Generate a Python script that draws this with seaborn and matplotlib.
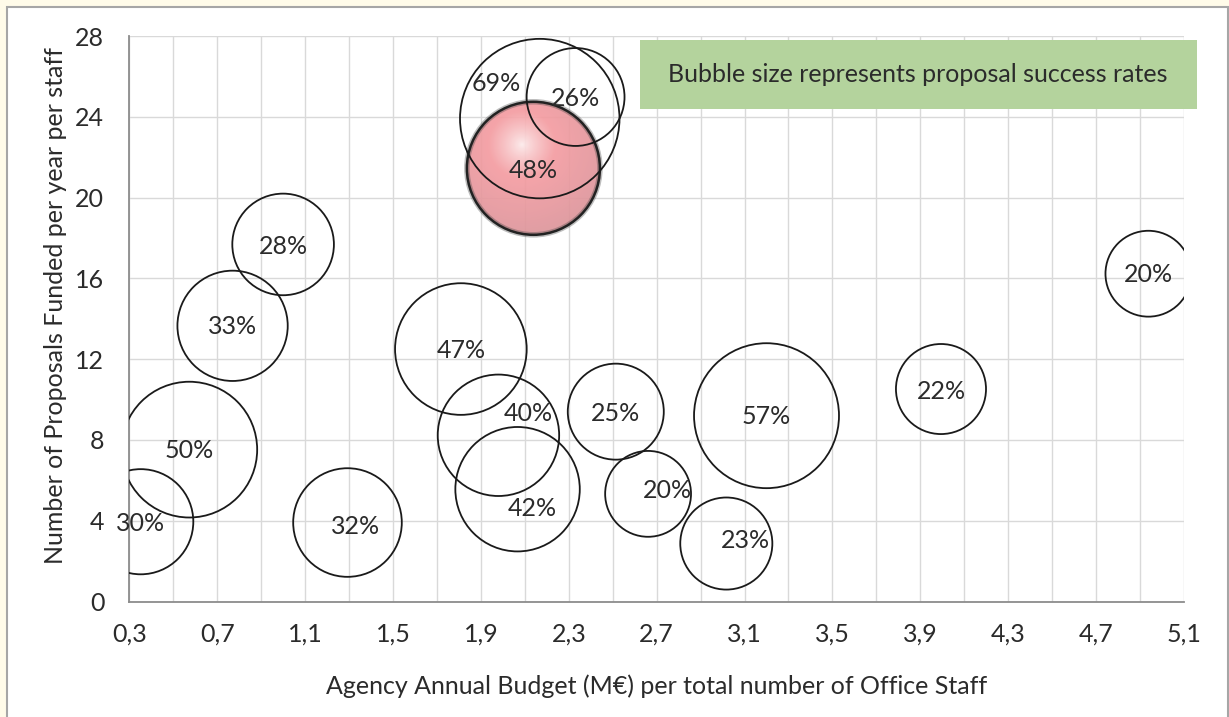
import matplotlib.pyplot as plt
import matplotlib.patches as mpatches
import numpy as np
import pandas as pd
import seaborn as sns

## values
budget_per_staff = [0.352, 0.573, 0.770, 1.000, 1.293, 1.809, 1.980, 2.067, 2.514,
                    2.661, 3.200, 3.017, 3.994, 4.938, 2.168, 2.331, 2.139]
funded_per_staff = [3.95, 7.52, 13.65, 17.68, 3.91, 12.50, 8.23, 5.56, 9.40,
                    5.33, 9.20, 2.87, 10.52, 16.23, 23.91, 24.98, 21.45]
success_rate = [30, 50, 33, 28, 32, 47, 40, 42, 25, 20, 57, 23, 22, 20, 69, 26, 48]
highlight_idx = 16  # the shaded bubble

# label nudges in pixels (right, down) where labels were moved off centre
label_dx = [0, 0, 0, 0, 8, 0, 30, 15, 0, 19, 0, 19, 0, 0, -44, 0, 0]
label_dy = [2, 1, 1, 2, 4, 1, -22, 19, 2, -3, 1, -3, 2, 1, -35, 2, 2]

x_ticks = np.arange(0.3, 5.11, 0.4)
y_ticks = np.arange(0, 28.1, 4)

df = pd.DataFrame({"budget": budget_per_staff, "funded": funded_per_staff,
                   "rate": success_rate})

sns.set_style("white")
plt.rcParams["font.family"] = ["Lato", "DejaVu Sans"]
text_col = "#2b2b2b"
FS = 18

fig = plt.figure(figsize=(12.29, 7.17), dpi=100, facecolor="#FFFBE9")
# white chart area with grey frame
frame = mpatches.Rectangle((7 / 1229, -0.02), 1221 / 1229, 710 / 717 + 0.02,
                           transform=fig.transFigure, facecolor="white",
                           edgecolor="#A6A6A6", linewidth=1.5, zorder=-10)
fig.add_artist(frame)

ax = fig.add_axes([129.3 / 1229, 115.5 / 717, 1054.7 / 1229, 565.5 / 717])
ax.set_xlim(0.3, 5.1)
ax.set_ylim(0, 28)

# bubble area proportional to success rate (px radius = 9.6*sqrt(rate))
k = (2 * 9.6 * 0.72) ** 2
plain = df.drop(index=highlight_idx)
sns.scatterplot(data=plain, x="budget", y="funded", size="rate",
                sizes=(0, k * 100), size_norm=(0, 100), facecolor="none",
                edgecolor="#1a1a1a", linewidth=1.3, legend=False, ax=ax, zorder=4)

# shaded sphere for the highlighted agency
hx, hy, hr = budget_per_staff[highlight_idx], funded_per_staff[highlight_idx], success_rate[highlight_idx]
r_px = 9.6 * np.sqrt(hr)
cx, cy = ax.transData.transform((hx, hy))
inv = ax.transData.inverted()
x0, y0 = inv.transform((cx - r_px, cy - r_px))
x1, y1 = inv.transform((cx + r_px, cy + r_px))
n = 300
u, v = np.meshgrid(np.linspace(-1, 1, n), np.linspace(-1, 1, n))
d = np.sqrt((u + 0.18) ** 2 + (v - 0.35) ** 2)
white = np.array([0.99, 0.93, 0.93])
pink = np.array([0xF4, 0x9C, 0xA1]) / 255
dark = np.array([0xDC, 0x95, 0x9B]) / 255
t1 = np.clip(d / 0.5, 0, 1)[..., None] ** 0.8
t2 = np.clip((d - 0.5) / 0.9, 0, 1)[..., None]
rgb = np.where(d[..., None] < 0.5, white * (1 - t1) + pink * t1, pink * (1 - t2) + dark * t2)
alpha = np.where(u ** 2 + v ** 2 <= 1, 0.92, 0.0)[..., None]
img = np.concatenate([rgb, alpha], axis=2)
ax.imshow(img, extent=(x0, x1, y0, y1), origin="lower", aspect="auto",
          interpolation="bilinear", zorder=2)
ax.add_patch(mpatches.Ellipse((hx, hy), x1 - x0, y1 - y0, fill=False,
                              edgecolor="#444444", linewidth=4, alpha=0.35, zorder=3))
ax.add_patch(mpatches.Ellipse((hx, hy), x1 - x0, y1 - y0, fill=False,
                              edgecolor="#222222", linewidth=1.8, zorder=3))
ax.set_xlim(0.3, 5.1)
ax.set_ylim(0, 28)

# percentage labels
for i, (bx, by, rate) in enumerate(zip(budget_per_staff, funded_per_staff, success_rate)):
    ax.annotate(f"{rate}%", (bx, by), xytext=(label_dx[i] * 0.72, -label_dy[i] * 0.72),
                textcoords="offset points", ha="center", va="center",
                fontsize=FS, color=text_col, zorder=6)

# axes styling
ax.set_xticks(x_ticks)
ax.set_xticklabels([f"{t:.1f}".replace(".", ",") for t in x_ticks])
ax.set_xticks(np.arange(0.5, 5.0, 0.4), minor=True)
ax.set_yticks(y_ticks)
ax.set_yticklabels([f"{int(t)}" for t in y_ticks])
ax.grid(True, which="both", axis="x", color="#D9D9D9", linewidth=1.0)
ax.grid(True, which="major", axis="y", color="#D9D9D9", linewidth=1.0)
ax.set_axisbelow(True)
for side in ["top", "right"]:
    ax.spines[side].set_visible(False)
for side in ["left", "bottom"]:
    ax.spines[side].set_color("#8C8C8C")
    ax.spines[side].set_linewidth(1.3)
ax.tick_params(axis="both", which="major", direction="out", length=5,
               width=1.3, color="#8C8C8C", labelsize=FS, labelcolor=text_col)
ax.tick_params(axis="x", which="minor", length=0)
ax.tick_params(axis="y", pad=13)
ax.tick_params(axis="x", pad=10)
ax.set_xlabel("Agency Annual Budget (M€) per total number of Office Staff",
              fontsize=FS, color=text_col, labelpad=21)
ax.set_ylabel("Number of Proposals Funded per year per staff",
              fontsize=FS, color=text_col, labelpad=6)
ax.yaxis.label.set_y(0.523)

# note box
fig.add_artist(mpatches.Rectangle((640 / 1229, (717 - 109.3) / 717), 556.7 / 1229, 69.3 / 717,
                                  transform=fig.transFigure, facecolor="#B4D39D",
                                  edgecolor="none", zorder=5))
fig.text(918 / 1229, (717 - 75) / 717, "Bubble size represents proposal success rates",
         ha="center", va="center", fontsize=FS, color=text_col, zorder=6)

fig.savefig("out.png", dpi=100, facecolor=fig.get_facecolor())
